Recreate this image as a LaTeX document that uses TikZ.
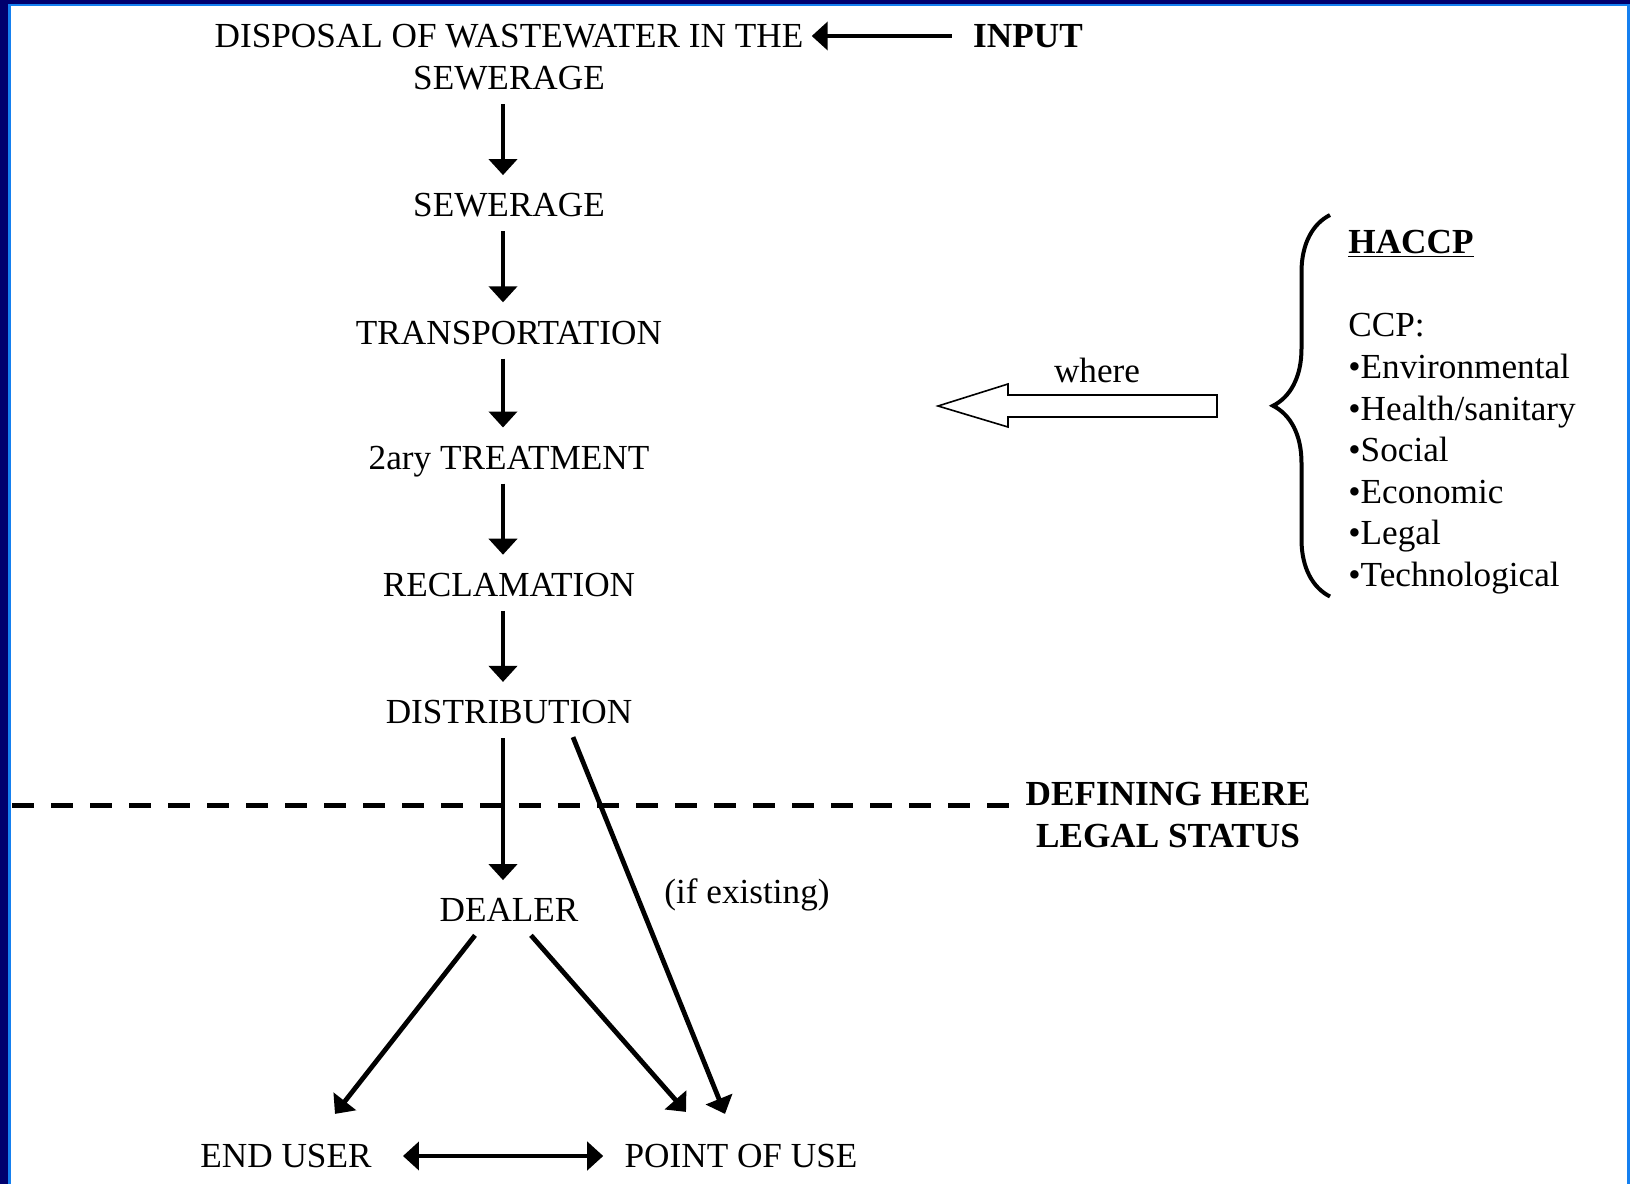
\documentclass[tikz,border=0pt]{standalone}
\usepackage{fontspec}
\setmainfont{Liberation Serif}
\usepackage{xcolor}
\usetikzlibrary{arrows.meta, positioning, calc, decorations.pathreplacing}
\definecolor{navy}{HTML}{00006E}
\definecolor{sky}{HTML}{1580F0}
\tikzset{
  txt/.style={font=\fontsize{17.6}{20.8}\selectfont, inner sep=0pt, align=center},
  boldtxt/.style={txt, font=\fontsize{17.6}{20.8}\selectfont\bfseries},
  stage/.style={txt, text height=11.7pt, text depth=0pt},
  >={Triangle[length=8pt,width=14pt]},
  arrow/.style={->, line width=2.4pt, shorten <=7pt, shorten >=9pt},
  diag/.style={->, line width=2.4pt},
  dashline/.style={line width=2.5pt, dash pattern=on 11pt off 8.5pt},
  hollow/.style={draw=black, fill=white, line width=0.8pt, line join=miter},
  bracket/.style={decorate, decoration={brace, amplitude=28.5pt}, line width=2pt},
}
\begin{document}
\begin{tikzpicture}[x=0.5pt, y=0.5pt]
  \useasboundingbox (0,0) rectangle (1630,-1184);
  % frame
  \fill[navy] (0,0) rectangle (8,-1184);
  \fill[navy] (0,0) rectangle (1630,-4);
  \fill[sky] (8,-4) rectangle (10.5,-1184);
  \fill[sky] (8,-4) rectangle (1630,-6);
  \fill[sky] (1627,-4) rectangle (1630,-1184);

  % main chain
  \node[txt] (disp) at (509,-57) {DISPOSAL OF WASTEWATER IN THE\\SEWERAGE};
  \node[stage, below=51.5pt of disp] (sew) {SEWERAGE};
  \node[stage, below=51.5pt of sew] (trans) {TRANSPORTATION};
  \node[stage, below=50.5pt of trans] (treat) {2ary TREATMENT};
  \node[stage, below=51.5pt of treat] (recl) {RECLAMATION};
  \node[stage, below=51.5pt of recl] (dist) {DISTRIBUTION};
  \node[stage, below=87pt of dist] (dealer) {DEALER};
  \node[stage] (enduser) at (286,-1156) {END USER};
  \node[stage] (pou) at (741,-1156) {POINT OF USE};

  \node[stage] (input) at (1028,-36) {\bfseries INPUT};
  \draw[arrow, shorten <=10.5pt, shorten >=4pt] (input.west) -- (input.west -| disp.east);

  \draw[arrow] ([xshift=-3pt]disp.south) -- ([xshift=-3pt]sew.north);
  \draw[arrow] ([xshift=-3pt]sew.south) -- ([xshift=-3pt]trans.north);
  \draw[arrow] ([xshift=-3pt]trans.south) -- ([xshift=-3pt]treat.north);
  \draw[arrow] ([xshift=-3pt]treat.south) -- ([xshift=-3pt]recl.north);
  \draw[arrow] ([xshift=-3pt]recl.south) -- ([xshift=-3pt]dist.north);
  \draw[arrow] ([xshift=-3pt]dist.south) -- ([xshift=-3pt]dealer.north);

  \draw[diag] ([shift={(32pt,-6.5pt)}]dist.south) -- ([shift={(-8pt,15pt)}]pou.north);
  \draw[diag] ([shift={(-17pt,-6.5pt)}]dealer.south) -- ([shift={(24.5pt,15pt)}]enduser.north);
  \draw[diag] ([shift={(11pt,-6.5pt)}]dealer.south) -- ([shift={(-27.5pt,16pt)}]pou.north);
  \draw[arrow, <->, shorten <=15.5pt, shorten >=10.5pt] (enduser) -- (pou);

  \node[txt, anchor=base] (ifex) at (747,-903) {(if existing)};

  % legal status line
  \node[boldtxt] (legal) at (1168,-815) {DEFINING HERE\\LEGAL STATUS};
  \coordinate (dashstart) at (12,-805);
  \draw[dashline] (dashstart) -- ([xshift=-7pt]dashstart -| legal.west);

  % HACCP block
  \node[txt, align=left, anchor=north west] (haccp) at (1348,-230)
    {\underline{\textbf{HACCP}}\\[20.8pt]CCP:\\•Environmental\\•Health/sanitary\\•Social\\•Economic\\•Legal\\•Technological};
  \draw[bracket] ([shift={(-9pt,-1pt)}]haccp.south west) -- ([shift={(-9pt,7.5pt)}]haccp.north west);

  \draw[hollow] (1217,-395) -- (1008,-395) -- (1008,-384) -- (938,-406)
    -- (1008,-427) -- (1008,-417) -- (1217,-417) -- cycle;
  \node[txt, anchor=base] (where) at (1097,-382) {where};
\end{tikzpicture}
\end{document}
